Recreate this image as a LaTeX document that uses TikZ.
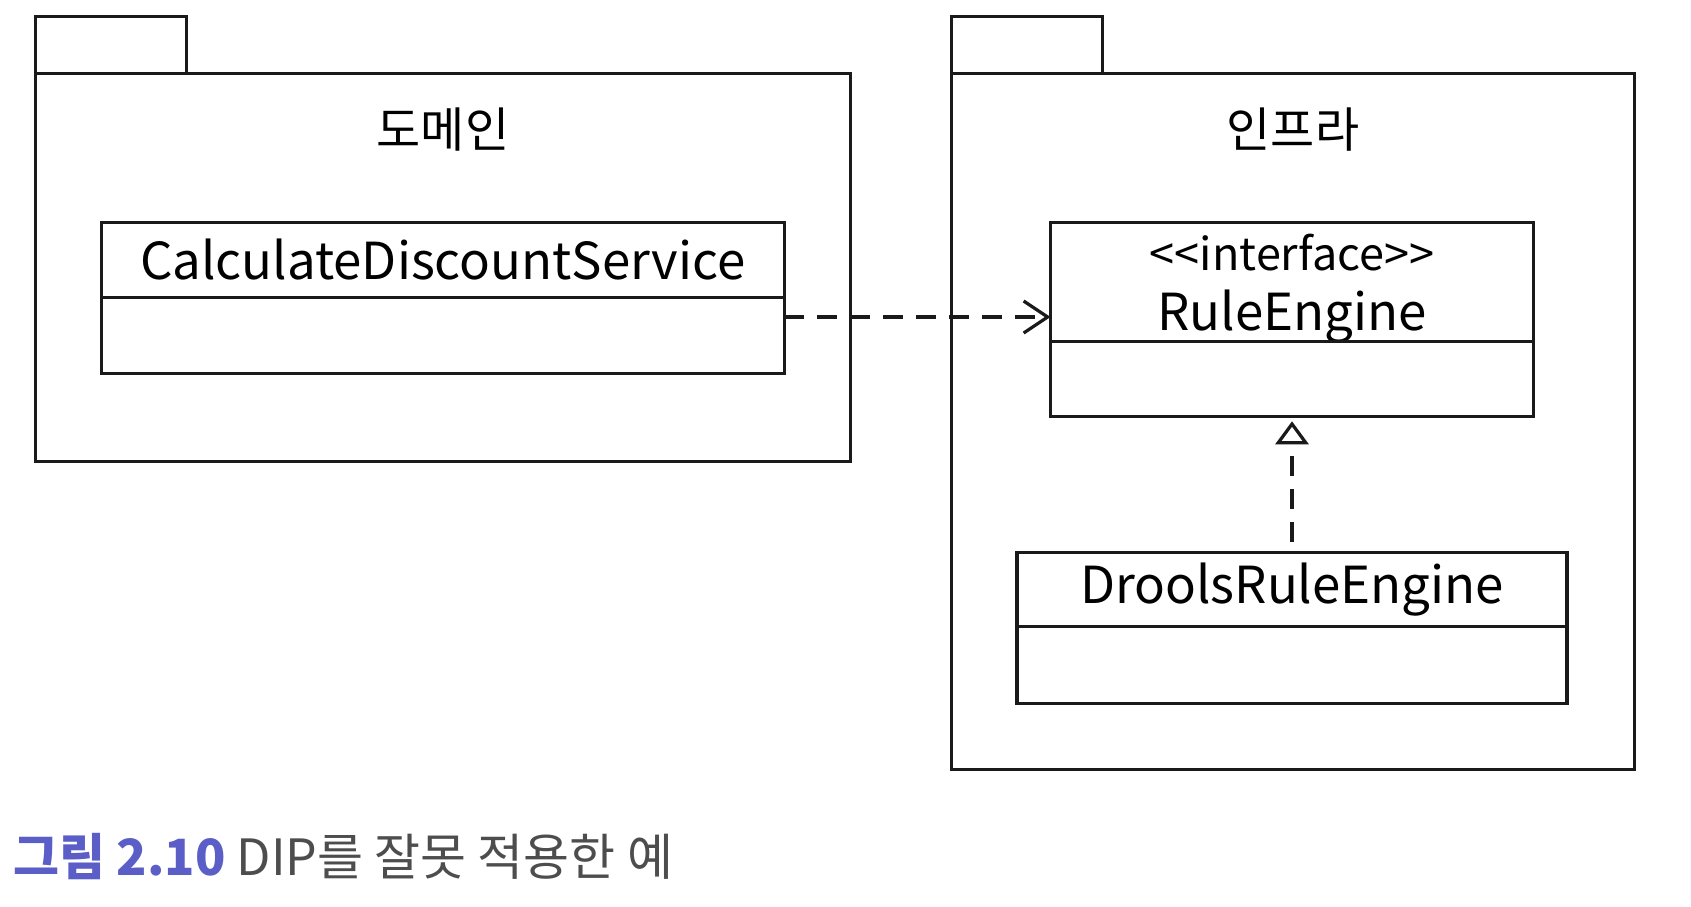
\documentclass[tikz,border=0pt]{standalone}
\usepackage{fontspec}
\setmainfont{Noto Sans CJK KR}
\usetikzlibrary{arrows.meta,positioning}

\tikzset{
    pkgbox/.style={draw=borderColour, line width=3.2pt, inner sep=0pt, outer sep=0pt},
    classbox/.style={draw=borderColour, line width=3.2pt, inner sep=0pt, outer sep=0pt,
        font=\fontsize{51}{58}\selectfont},
    dep/.style={draw=borderColour, line width=3.2pt, dash pattern=on 20pt off 13pt,
        -{Straight Barb[length=24pt,width=32pt,line width=3.2pt]}},
    realize/.style={draw=borderColour, line width=3.2pt, dash pattern=on 20pt off 13pt,
        -{Triangle[open,length=23pt,width=33pt,line width=3.2pt]}},
}

\begin{document}
\begin{tikzpicture}[x=1pt, y=-1pt]
    \definecolor{borderColour}{HTML}{1A1A1A}
    \definecolor{captionBlue}{HTML}{5A5EC6}
    \definecolor{captionGrey}{HTML}{4D4D4D}

    \useasboundingbox (0,0) rectangle (1691,906);

    % Package: domain
    \node[pkgbox, minimum width=151pt, minimum height=57pt, anchor=north west] (domainTab) at (35.6,16.2) {};
    \node[pkgbox, minimum width=815pt, minimum height=388pt, anchor=north west] (domainPkg) at (35.6,73.3) {};
    \node[font=\fontsize{48}{56}\selectfont] (domainLabel) at (443,130) {도메인};

    % Package: infra
    \node[pkgbox, minimum width=151pt, minimum height=57pt, anchor=north west] (infraTab) at (951.2,16.2) {};
    \node[pkgbox, minimum width=683pt, minimum height=696pt, anchor=north west] (infraPkg) at (951.2,73.3) {};
    \node[font=\fontsize{48}{56}\selectfont] (infraLabel) at (1293,130) {인프라};

    % Class CalculateDiscountService
    \node[classbox, minimum width=683pt, minimum height=75.4pt] (cdsTitle) at (442.7,259.9) {CalculateDiscountService};
    \node[classbox, minimum width=683pt, minimum height=75.5pt, below=0pt of cdsTitle] (cdsBody) {};

    % Interface RuleEngine
    \node[classbox, minimum width=483pt, minimum height=119.7pt] (reTitle) at (1292,282) {};
    \node[align=center, inner sep=0pt, font=\fontsize{51}{58}\selectfont] (reName) at ([yshift=-7pt]reTitle.center)
        {{\fontsize{45}{52}\selectfont <{}<interface>{}>}\\[2pt]RuleEngine};
    \node[classbox, minimum width=483pt, minimum height=74.4pt, below=0pt of reTitle] (reBody) {};

    % Class DroolsRuleEngine
    \node[classbox, minimum width=550pt, minimum height=74.4pt] (drTitle) at (1292,589.3) {DroolsRuleEngine};
    \node[classbox, minimum width=550pt, minimum height=76.6pt, below=0pt of drTitle] (drBody) {};

    % Dependency and realization
    \draw[dep] ([yshift=-19.4pt]cdsBody.north east) -- ([yshift=-19.4pt]cdsBody.north east -| reTitle.west);
    \draw[realize, shorten <=10pt, shorten >=5pt] (drTitle.north) -- (reBody.south);

    % Caption
    \node[anchor=west, inner sep=0pt, font=\fontsize{50}{58}\selectfont] (caption) at (13,857)
        {\textcolor{captionBlue}{\textbf{그림 2.10}} \textcolor{captionGrey}{DIP를 잘못 적용한 예}};
\end{tikzpicture}
\end{document}
